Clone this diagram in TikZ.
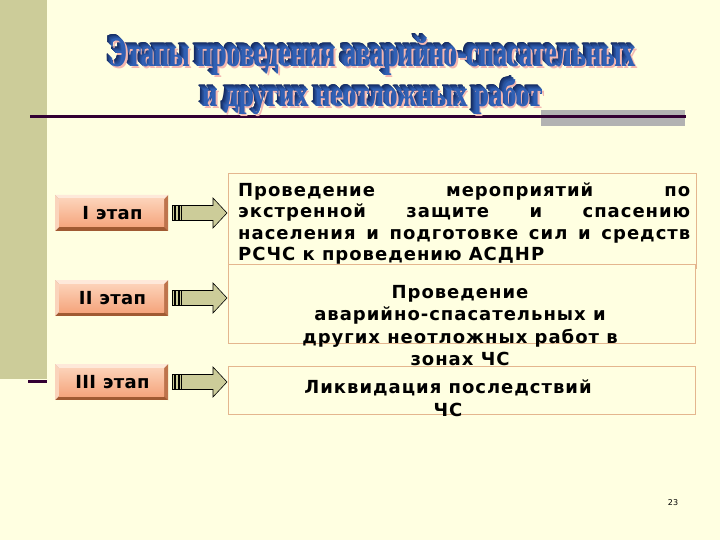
\documentclass[tikz,border=0pt]{standalone}
\usepackage{fontspec}
\setmainfont{DejaVu Sans}
\newfontfamily\bodyfont[LetterSpace=5.5]{DejaVu Sans Bold}
\newfontfamily\stagefont[LetterSpace=2]{DejaVu Sans Bold}
\newfontfamily\titlefont{Liberation Serif Bold}
\definecolor{bgc}{RGB}{255,255,225}
\definecolor{barc}{RGB}{204,204,153}
\definecolor{linec}{RGB}{51,0,51}
\definecolor{greyc}{RGB}{178,178,178}
\definecolor{boxline}{RGB}{228,182,142}
\definecolor{arrowc}{RGB}{204,204,153}
\definecolor{bevlight}{RGB}{254,233,218}
\definecolor{bevleft}{RGB}{250,212,188}
\definecolor{bevdark}{RGB}{160,90,50}
\definecolor{bevright}{RGB}{190,116,76}
\definecolor{facetop}{RGB}{252,210,184}
\definecolor{facebot}{RGB}{245,165,125}
\definecolor{ttlface}{RGB}{48,96,180}
\definecolor{ttldeep}{RGB}{10,22,64}
\definecolor{ttlpink}{RGB}{244,182,176}
\newcommand\ttlA{Этапы проведения аварийно-спасательных}
\newcommand\ttlB{и других неотложных работ}
\newcommand\wart[3]{\resizebox{#2}{#3}{\titlefont #1}}
\tikzset{
  tbox/.style={draw=boxline, line width=0.8pt, fill=bgc, inner sep=0pt},
  blockarrow/.style={draw=black, line width=0.6pt, fill=arrowc},
  bodytext/.style={inner sep=0pt, font=\bodyfont\fontsize{18}{21.3}\selectfont},
  ttl/.style={inner sep=0pt, anchor=base},
}
\begin{document}
\begin{tikzpicture}[x=1pt,y=-1pt]
\useasboundingbox (0,0) rectangle (720,540);
\fill[bgc] (0,0) rectangle (720,540);
% left bar
\fill[barc] (0,0) rectangle (47,379);
\draw[linec, line width=3pt] (28,381) -- (47,381);
% title underline
\fill[greyc] (541,110) rectangle (685,126);
\draw[linec, line width=3pt] (30,117) -- (686,117);
% title (WordArt-like)
\foreach \d in {6,5.5,...,1}{
  \pgfmathsetmacro\mix{100-\d*13}
  \node[ttl, text=ttlface!\mix!ttldeep] at (373-\d*0.8,67-\d*0.8) {\wart{\ttlA}{526pt}{29pt}};
  \node[ttl, text=ttlface!\mix!ttldeep] at (373-\d*0.8,107-\d*0.8) {\wart{\ttlB}{340pt}{27pt}};
}
\node[ttl, text=ttlpink] at (374.5,68.5) {\wart{\ttlA}{526pt}{29pt}};
\node[ttl, text=ttlpink] at (374.5,108.5) {\wart{\ttlB}{340pt}{27pt}};
\node[ttl, text=ttlface] (t1) at (373,67) {\wart{\ttlA}{526pt}{29pt}};
\node[ttl, text=ttlface] (t2) at (373,107) {\wart{\ttlB}{340pt}{27pt}};
% stage boxes and arrows
\foreach \yc/\lab/\nm in {213/I этап/s1, 298/II этап/s2, 382/III этап/s3}{
  \fill[bevdark] (55,\yc-18) rectangle (168,\yc+18);
  \fill[bevright] (168,\yc-18) -- (168,\yc+18) -- (164,\yc+14) -- (164,\yc-14) -- cycle;
  \fill[bevleft] (55,\yc-18) -- (59,\yc-14) -- (59,\yc+14) -- (55,\yc+18) -- cycle;
  \fill[bevlight] (55,\yc-18) -- (168,\yc-18) -- (164,\yc-14) -- (59,\yc-14) -- cycle;
  \shade[top color=facetop, bottom color=facebot] (59,\yc-14) rectangle (164,\yc+14);
  \node[inner sep=0pt, font=\stagefont\fontsize{18}{20}\selectfont] (\nm) at (112.5,\yc) {\lab};
  \draw[blockarrow] (172,\yc-7.5) rectangle (174.5,\yc+7.5);
  \draw[blockarrow] (175.5,\yc-7.5) rectangle (178,\yc+7.5);
  \draw[blockarrow] (179,\yc-7.5) rectangle (181.5,\yc+7.5);
  \draw[blockarrow] (181.5,\yc-7.5) -- (213,\yc-7.5) -- (213,\yc-15) -- (227,\yc) -- (213,\yc+15) -- (213,\yc+7.5) -- (181.5,\yc+7.5) -- cycle;
}
% text boxes
\node[tbox, minimum width=468pt, minimum height=95pt] (b1) at (462,220.5) {};
\node[bodytext, anchor=base west] (x1) at (238,196.7) {\vtop{%
  \hbox{\makebox[452pt][s]{Проведение мероприятий по}}
  \hbox{\makebox[452pt][s]{экстренной защите и спасению}}
  \hbox{\makebox[452pt][s]{населения и подготовке сил и средств}}
  \hbox{РСЧС к проведению АСДНР}}};
\node[tbox, minimum width=467pt, minimum height=79pt] (b2) at (461.5,303.5) {};
\node[bodytext, anchor=base, font=\bodyfont\fontsize{18}{22.5}\selectfont] (x2) at (460,298.3) {\vtop{%
  \hbox to 0pt{\hss Проведение\hss}
  \hbox to 0pt{\hss аварийно-спасательных и\hss}
  \hbox to 0pt{\hss других неотложных работ в\hss}
  \hbox to 0pt{\hss зонах ЧС\hss}}};
\node[tbox, minimum width=467pt, minimum height=48pt] (b3) at (461.5,390) {};
\node[bodytext, anchor=base, font=\bodyfont\fontsize{18}{23}\selectfont] (x3) at (448,393) {\vtop{%
  \hbox to 0pt{\hss Ликвидация последствий\hss}
  \hbox to 0pt{\hss ЧС\hss}}};
% page number
\node[inner sep=0pt, font=\fontsize{8}{9}\selectfont] (pg) at (673,503) {23};
\end{tikzpicture}
\end{document}
